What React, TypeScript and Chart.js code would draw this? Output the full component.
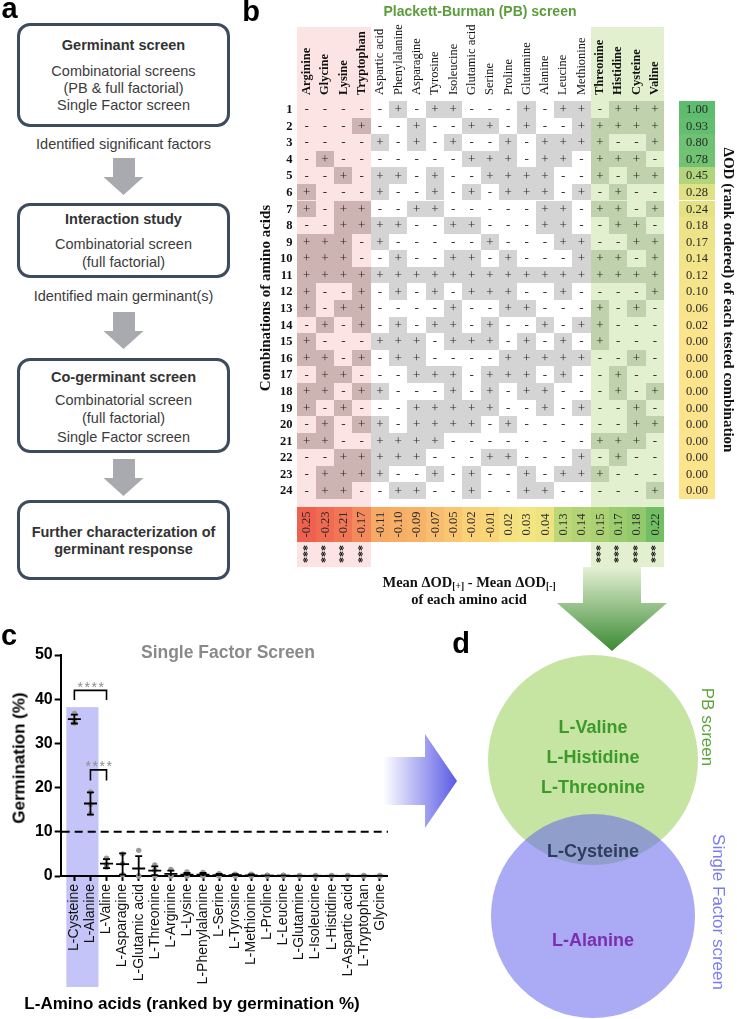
import React, { useEffect, useRef } from 'react';
import { Chart, registerables } from 'chart.js';

Chart.register(...registerables);

const SANS = '"Liberation Sans", Arial, Helvetica, sans-serif';
const SERIF = '"Liberation Serif", "Times New Roman", Times, serif';

// ---------------- Panel b : Plackett-Burman screen ----------------
const pbAminoAcids = [
  'Arginine', 'Glycine', 'Lysine', 'Tryptophan', 'Aspartic acid', 'Phenylalanine', 'Asparagine',
  'Tyrosine', 'Isoleucine', 'Glutamic acid', 'Serine', 'Proline', 'Glutamine', 'Alanine', 'Leucine',
  'Methionine', 'Threonine', 'Histidine', 'Cysteine', 'Valine',
];
const pbRunLabels = ['1', '2', '3', '4', '5', '6', '7', '8', '9', '10', '11', '12', '13', '14', '15', '16', '17', '18', '19', '20', '21', '22', '23', '24'];
const pbDesign = [
  '-----+-++---+-++-+++',
  '---+--+--++-+--+++++',
  '----+-+-+--+-++++--+',
  '-+-------+++-++-+++-',
  '--+-++-+--++++--+-++',
  '+---+--+-+-+++-+-+--',
  '+-++--++-----++-++-+',
  '--++++--++---++--++-',
  '+++-+-----+---++--++',
  '+++--+--++-+---+++-+',
  '++++++++++++++++++++',
  '+--+-+-+-+++--+----+',
  '+-++----+--++---+-+-',
  '-+-+-+-++-+--+-++---',
  '+---+++-+++-+-+-+---',
  '++-+-++----+++++--+-',
  '-++---+++-+++-+--+--',
  '++-++---+-+-++---+-+',
  '+-+---+++++--+-+--+-',
  '-+-++-++++-+------++',
  '++--++++--------+++-',
  '--+++++---++---+-+--',
  '-++++--+-+--+-+++---',
  '-++--++--+--++-----+',
];
const pbDeltaOD = [1.0, 0.93, 0.8, 0.78, 0.45, 0.28, 0.24, 0.18, 0.17, 0.14, 0.12, 0.1, 0.06, 0.02, 0.0, 0.0, 0.0, 0.0, 0.0, 0.0, 0.0, 0.0, 0.0, 0.0];
const pbEffects = [-0.25, -0.23, -0.21, -0.17, -0.11, -0.1, -0.09, -0.07, -0.05, -0.02, -0.01, 0.02, 0.03, 0.04, 0.13, 0.14, 0.15, 0.17, 0.18, 0.22];
const pbSignificance = ['***', '***', '***', '***', '', '', '', '', '', '', '', '', '', '', '', '', '***', '***', '***', '***'];

// ---------------- Panel c : Single Factor screen ----------------
const sfAminoAcids = [
  'L-Cysteine', 'L-Alanine', 'L-Valine', 'L-Asparagine', 'L-Glutamic acid', 'L-Threonine', 'L-Arginine',
  'L-Lysine', 'L-Phenylalanine', 'L-Serine', 'L-Tyrosine', 'L-Methionine', 'L-Proline', 'L-Leucine',
  'L-Glutamine', 'L-Isoleucine', 'L-Histidine', 'L-Aspartic acid', 'L-Tryptophan', 'Glycine',
];
const sfMean = [35.5, 16.4, 2.8, 2.7, 1.7, 1.2, 0.5, 0.3, 0.3, 0.2, 0.2, 0.15, 0.1, 0.1, 0.05, 0.05, 0.05, 0.05, 0.05, 0.05];
const sfSD = [1.0, 2.5, 1.0, 2.4, 2.8, 1.0, 0.7, 0.4, 0.4, 0.3, 0.2, 0.2, 0.1, 0.1, 0.05, 0.05, 0.05, 0.05, 0.05, 0.05];
const sfRep1 = [36.8, 19.0, 4.0, 5.0, 5.8, 2.5, 1.5, 0.9, 0.8, 0.5, 0.4, 0.4, 0.2, 0.2, 0.1, 0.1, 0.1, 0.1, 0.1, 0.1];
const sfRep2 = [34.6, 16.2, 2.6, 2.8, 0.0, 1.3, 0.1, 0.1, 0.2, 0.1, 0.1, 0.1, 0.1, 0.1, 0.0, 0.0, 0.0, 0.0, 0.0, 0.0];
const sfRep3 = [35.0, 14.1, 2.0, 0.3, 0.0, 0.0, 0.0, 0.0, 0.0, 0.0, 0.0, 0.0, 0.0, 0.0, 0.0, 0.0, 0.0, 0.0, 0.0, 0.0];
const sfYTicks = [0, 10, 20, 30, 40, 50];
const sfThreshold = [10];
const sfHighlighted = ['L-Cysteine', 'L-Alanine'];
const sfHighlightTop = [38.2];
// comparisons: from index, to index, bracket height, leg bottom, label
const sfCompFrom = [0, 1];
const sfCompTo = [2, 2];
const sfCompTop = [42.0, 24.0];
const sfCompLeg = [39.8, 21.6];
const sfCompLabel = ['****', '****'];

// ---------------- Panel d : Venn ----------------
const vennPBOnly = ['L-Valine', 'L-Histidine', 'L-Threonine'];
const vennShared = ['L-Cysteine'];
const vennSFOnly = ['L-Alanine'];

type Stop = [number, number[]];
const effectStops: Stop[] = [
  [-0.25, [239, 96, 78]], [-0.17, [244, 138, 92]], [-0.11, [247, 170, 102]], [-0.05, [249, 198, 114]],
  [0.0, [250, 217, 122]], [0.03, [243, 229, 130]], [0.06, [226, 226, 128]], [0.13, [187, 215, 120]], [0.22, [114, 190, 98]],
];
const odStops: Stop[] = [
  [0, [251, 228, 140]], [0.12, [245, 228, 138]], [0.28, [223, 225, 132]], [0.45, [177, 213, 123]], [0.78, [113, 194, 115]], [1.0, [94, 188, 110]],
];
function colorAt(stops: Stop[], v: number) {
  if (v <= stops[0][0]) return `rgb(${stops[0][1].join(',')})`;
  for (let i = 1; i < stops.length; i++) {
    if (v <= stops[i][0]) {
      const [a, ca] = stops[i - 1];
      const [b, cb] = stops[i];
      const t = (v - a) / (b - a);
      const c = ca.map((x, k) => Math.round(x + (cb[k] - x) * t));
      return `rgb(${c.join(',')})`;
    }
  }
  return `rgb(${stops[stops.length - 1][1].join(',')})`;
}

function drawText(ctx: any, s: string, x: number, y: number, font: string, color: string, align = 'center', baseline = 'middle', rot = 0) {
  ctx.save();
  ctx.translate(x, y);
  if (rot) ctx.rotate(rot);
  ctx.font = font;
  ctx.fillStyle = color;
  ctx.textAlign = align;
  ctx.textBaseline = baseline;
  ctx.fillText(s, 0, 0);
  ctx.restore();
}

const pbPlugin = {
  id: 'pbTable',
  afterDraw(chart: any) {
    const ctx = chart.ctx;
    const ca = chart.chartArea;
    const xs = chart.scales.x;
    const ys = chart.scales.y;
    const nC = pbAminoAcids.length;
    const nR = pbRunLabels.length;
    const cw = (ca.right - ca.left) / nC;
    const rh = (ca.bottom - ca.top) / nR;
    const cx = (c: number) => xs.getPixelForValue(c);
    const cy = (r: number) => ys.getPixelForValue(r);
    const colL = (c: number) => Math.round(cx(c) - cw / 2);
    const colR = (c: number) => Math.round(cx(c) + cw / 2);
    const rowT = (r: number) => Math.round(cy(r) - rh / 2);
    const rowB = (r: number) => Math.round(cy(r) + rh / 2);
    const zone = (c: number) => (pbSignificance[c] ? (pbEffects[c] < 0 ? 'neg' : 'pos') : 'mid');
    const light: any = { neg: '#fde4e4', pos: '#e3f0cf', mid: '#ffffff' };
    const dark: any = { neg: '#ceb3b3', pos: '#bfd1ad', mid: '#d4d4d4' };
    const bandTop = ca.top - 74;
    const bandBot = ca.bottom + 68;
    ctx.save();
    for (let c = 0; c < nC; c++) {
      const z = zone(c);
      if (z !== 'mid') {
        ctx.fillStyle = light[z];
        ctx.fillRect(colL(c), bandTop, colR(c) - colL(c), bandBot - bandTop);
      }
    }
    for (let r = 0; r < nR; r++) {
      for (let c = 0; c < nC; c++) {
        if (pbDesign[r][c] === '+') {
          ctx.fillStyle = dark[zone(c)];
          ctx.fillRect(colL(c), rowT(r), colR(c) - colL(c), rowB(r) - rowT(r));
        }
      }
    }
    for (let r = 0; r < nR; r++) {
      for (let c = 0; c < nC; c++) {
        drawText(ctx, pbDesign[r][c], cx(c), cy(r) + 0.5, `13px ${SERIF}`, '#2a2a2a');
      }
      drawText(ctx, pbRunLabels[r], ca.left - 5, cy(r) + 0.5, `bold 12.5px ${SERIF}`, '#111', 'right');
    }
    // headers
    for (let c = 0; c < nC; c++) {
      const bold = zone(c) !== 'mid';
      drawText(ctx, pbAminoAcids[c], cx(c), ca.top - 6, `${bold ? 'bold ' : ''}12.5px ${SERIF}`, '#111', 'left', 'middle', -Math.PI / 2);
    }
    // right Delta OD column
    const ox0 = ca.right + 15;
    const ox1 = ca.right + 51;
    for (let r = 0; r < nR; r++) {
      ctx.fillStyle = colorAt(odStops, pbDeltaOD[r]);
      ctx.fillRect(ox0, rowT(r), ox1 - ox0, rowB(r) - rowT(r));
      drawText(ctx, pbDeltaOD[r].toFixed(2), (ox0 + ox1) / 2, cy(r) + 0.5, `12.5px ${SERIF}`, '#2a2a2a');
    }
    drawText(ctx, 'ΔOD (rank ordered) of each tested combination', ca.right + 64, (ca.top + ca.bottom) / 2, `bold 15px ${SERIF}`, '#111', 'center', 'middle', Math.PI / 2);
    drawText(ctx, 'Combinations of amino acids', ca.left - 31.5, (ca.top + ca.bottom) / 2 - 2, `bold 15px ${SERIF}`, '#111', 'center', 'middle', -Math.PI / 2);
    // effects row
    const ey0 = ca.bottom + 8;
    const ey1 = ca.bottom + 43;
    for (let c = 0; c < nC; c++) {
      ctx.fillStyle = colorAt(effectStops, pbEffects[c]);
      ctx.fillRect(colL(c), ey0, colR(c) - colL(c), ey1 - ey0);
      drawText(ctx, pbEffects[c].toFixed(2), cx(c) + 0.5, (ey0 + ey1) / 2, `12.5px ${SERIF}`, '#2a2a2a', 'center', 'middle', -Math.PI / 2);
      if (pbSignificance[c]) {
        drawText(ctx, pbSignificance[c], cx(c) + 1, ca.bottom + 55, `bold 12px ${SERIF}`, '#111', 'center', 'middle', -Math.PI / 2);
      }
    }
    // bottom label
    const midX = 229;
    const y1 = ca.bottom + 84;
    const big = `bold 14.5px ${SERIF}`;
    const small = `bold 9.5px ${SERIF}`;
    const parts: [string, string, number][] = [
      ['Mean ΔOD', big, 0], ['[+]', small, 4], [' - Mean ΔOD', big, 0], ['[-]', small, 4],
    ];
    let total = 0;
    for (const p of parts) { ctx.font = p[1]; total += ctx.measureText(p[0]).width; }
    let px = midX - total / 2;
    for (const p of parts) {
      drawText(ctx, p[0], px, y1 + p[2], p[1], '#111', 'left', 'middle');
      ctx.font = p[1];
      px += ctx.measureText(p[0]).width;
    }
    drawText(ctx, 'of each amino acid', midX, y1 + 17, big, '#111');
    // title
    drawText(ctx, 'Plackett-Burman (PB) screen', 240, 12, `bold 14px ${SANS}`, '#5b9d3a');
    ctx.restore();
  },
};

function PBChart() {
  const ref = useRef<HTMLCanvasElement>(null);
  useEffect(() => {
    const chart = new Chart(ref.current as any, {
      type: 'scatter',
      data: { labels: pbAminoAcids, datasets: [{ data: [], pointRadius: 0 }] },
      options: {
        animation: false,
        responsive: false,
        maintainAspectRatio: false,
        events: [],
        layout: { padding: { left: 57.5, right: 73, top: 101, bottom: 113 } },
        plugins: { legend: { display: false }, tooltip: { enabled: false } },
        scales: {
          x: { type: 'category', labels: pbAminoAcids, offset: true, display: false },
          y: { type: 'category', labels: pbRunLabels, offset: true, display: false },
        },
      } as any,
      plugins: [pbPlugin],
    });
    return () => chart.destroy();
  }, []);
  return <canvas ref={ref} width={497} height={612} style={{ position: 'absolute', left: 240, top: 0, width: 497, height: 612 }} />;
}

const sfPlugin = {
  id: 'sfDecor',
  beforeDraw(chart: any) {
    const ctx = chart.ctx;
    const ca = chart.chartArea;
    const xs = chart.scales.x;
    const ys = chart.scales.y;
    const x0 = xs.getPixelForValue(-0.5);
    const x1 = xs.getPixelForValue(sfHighlighted.length - 0.5);
    const yT = ys.getPixelForValue(sfHighlightTop[0]);
    ctx.save();
    ctx.fillStyle = '#c4c4f9';
    ctx.fillRect(x0, yT, x1 - x0, ca.bottom + 111 - yT);
    ctx.restore();
  },
  afterDatasetsDraw(chart: any) {
    const ctx = chart.ctx;
    const ca = chart.chartArea;
    const xs = chart.scales.x;
    const ys = chart.scales.y;
    ctx.save();
    // threshold
    ctx.strokeStyle = '#000';
    ctx.lineWidth = 2;
    ctx.setLineDash([8, 5]);
    ctx.beginPath();
    const yt = ys.getPixelForValue(sfThreshold[0]);
    ctx.moveTo(ca.left + 1, yt);
    ctx.lineTo(ca.right, yt);
    ctx.stroke();
    ctx.setLineDash([]);
    // error bars and means
    ctx.lineWidth = 1.8;
    for (let i = 0; i < sfAminoAcids.length; i++) {
      const px = xs.getPixelForValue(i);
      const ym = ys.getPixelForValue(sfMean[i]);
      const yTop = ys.getPixelForValue(sfMean[i] + sfSD[i]);
      const lowV = sfMean[i] - sfSD[i];
      const yBot = ys.getPixelForValue(Math.max(0, lowV));
      ctx.beginPath();
      if (sfSD[i] >= 0.15) {
        ctx.moveTo(px, yTop); ctx.lineTo(px, yBot);
        ctx.moveTo(px - 3.5, yTop); ctx.lineTo(px + 3.5, yTop);
        if (lowV > 0) { ctx.moveTo(px - 3.5, yBot); ctx.lineTo(px + 3.5, yBot); }
      }
      ctx.moveTo(px - 6.5, ym); ctx.lineTo(px + 6.5, ym);
      ctx.stroke();
    }
    // brackets
    for (let k = 0; k < sfCompFrom.length; k++) {
      const xa = xs.getPixelForValue(sfCompFrom[k]);
      const xb = xs.getPixelForValue(sfCompTo[k]);
      const yTop = ys.getPixelForValue(sfCompTop[k]);
      const yLeg = ys.getPixelForValue(sfCompLeg[k]);
      ctx.lineWidth = 1.6;
      ctx.strokeStyle = '#000';
      ctx.beginPath();
      ctx.moveTo(xa, yLeg); ctx.lineTo(xa, yTop); ctx.lineTo(xb, yTop); ctx.lineTo(xb, yLeg);
      ctx.stroke();
      ctx.save();
      ctx.font = `14px ${SANS}`;
      (ctx as any).letterSpacing = '1.5px';
      ctx.fillStyle = '#8c8c8c';
      ctx.textAlign = 'center';
      ctx.textBaseline = 'middle';
      ctx.fillText(sfCompLabel[k], (xa + xb) / 2 + 1, yTop - 2.5);
      ctx.restore();
    }
    ctx.restore();
  },
};

function SFChart() {
  const ref = useRef<HTMLCanvasElement>(null);
  useEffect(() => {
    const pts: any[] = [];
    sfAminoAcids.forEach((_, i) => {
      pts.push({ x: i, y: sfRep1[i] }, { x: i, y: sfRep2[i] }, { x: i, y: sfRep3[i] });
    });
    const chart = new Chart(ref.current as any, {
      type: 'scatter',
      data: {
        datasets: [
          { label: 'Replicates', data: pts, pointRadius: 2.7, pointBackgroundColor: '#9a9a9a', pointBorderWidth: 0, clip: false } as any,
        ],
      },
      options: {
        animation: false,
        responsive: false,
        maintainAspectRatio: false,
        events: [],
        layout: { padding: { left: 0, right: 12, top: 35, bottom: 0 } },
        plugins: { legend: { display: false }, tooltip: { enabled: false }, title: { display: false } },
        scales: {
          x: {
            type: 'linear',
            min: -0.85,
            max: 19.5,
            afterBuildTicks: (s: any) => { s.ticks = sfAminoAcids.map((_, i) => ({ value: i })); },
            afterFit: (s: any) => { s.height = 143; },
            ticks: {
              autoSkip: false, maxRotation: 90, minRotation: 90, padding: 3,
              callback: (v: any) => sfAminoAcids[v],
              font: { family: SANS, size: 14 }, color: '#111',
            },
            grid: { drawOnChartArea: false, drawTicks: true, tickLength: 5, tickWidth: 2, color: '#000', tickColor: '#000' },
            border: { display: true, width: 2, color: '#000' },
          },
          y: {
            type: 'linear',
            min: 0,
            max: 50,
            afterBuildTicks: (s: any) => { s.ticks = sfYTicks.map((v) => ({ value: v })); },
            afterFit: (s: any) => { s.width = 60.7; },
            ticks: { padding: 2, font: { family: SANS, size: 16, weight: 'bold' }, color: '#000' },
            grid: { drawOnChartArea: false, drawTicks: true, tickLength: 6, tickWidth: 2, color: '#000', tickColor: '#000' },
            border: { display: true, width: 2, color: '#000' },
          },
        },
      } as any,
      plugins: [sfPlugin],
    });
    return () => chart.destroy();
  }, []);
  return <canvas ref={ref} width={400} height={399} style={{ position: 'absolute', left: 0, top: 620, width: 400, height: 399 }} />;
}

// Venn canvas: 297 x 389; padding larger than bubble overflow so that scale units equal canvas pixels
const VENN_W = 297;
const VENN_H = 389;
const VENN_PAD = 120;

function VennChart() {
  const ref = useRef<HTMLCanvasElement>(null);
  useEffect(() => {
    const chart = new Chart(ref.current as any, {
      type: 'bubble',
      data: {
        datasets: [
          { label: 'PB screen', order: 2, data: [{ x: 153, y: 130, r: 105 }], backgroundColor: 'rgb(198,228,162)', borderWidth: 0, clip: false } as any,
          { label: 'Single Factor screen', order: 1, data: [{ x: 153, y: 286, r: 102 }], backgroundColor: 'rgba(100,100,237,0.55)', borderWidth: 0, clip: false } as any,
        ],
      },
      options: {
        animation: false,
        responsive: false,
        maintainAspectRatio: false,
        events: [],
        layout: { padding: VENN_PAD },
        plugins: { legend: { display: false }, tooltip: { enabled: false } },
        scales: {
          x: { type: 'linear', min: VENN_PAD, max: VENN_W - VENN_PAD, display: false },
          y: { type: 'linear', min: VENN_PAD, max: VENN_H - VENN_PAD, reverse: true, display: false },
        },
      } as any,
    });
    return () => chart.destroy();
  }, []);
  return <canvas ref={ref} width={VENN_W} height={VENN_H} style={{ position: 'absolute', left: 440, top: 630, width: VENN_W, height: VENN_H }} />;
}

function Txt(props: any) {
  const { x, y, size, bold, color = '#3c3c3c', family = SANS, rotate = 0, children } = props;
  return (
    <div
      style={{
        position: 'absolute', left: x, top: y,
        transform: `translate(-50%, -50%) rotate(${rotate}deg)`,
        fontFamily: family, fontSize: size, fontWeight: bold ? 700 : 400, color,
        whiteSpace: 'nowrap', lineHeight: 1,
      }}
    >
      {children}
    </div>
  );
}

function Box(props: any) {
  const { top, height } = props;
  return (
    <div
      style={{
        position: 'absolute', left: 17, top, width: 213, height, boxSizing: 'border-box',
        border: '3px solid #3d4b5f', borderRadius: 13, background: '#fff',
      }}
    />
  );
}

function grayArrow(y0: number) {
  const s1 = y0 + 19;
  const tip = y0 + 37;
  return `113,${y0} 135,${y0} 135,${s1} 143.5,${s1} 123.5,${tip} 103.5,${s1} 113,${s1}`;
}

export default function App() {
  const cx = 123.5;
  return (
    <div style={{ position: 'absolute', left: 0, top: 0, width: 737, height: 1019, background: '#fff', overflow: 'hidden' }}>
      {/* Panel a */}
      <Box top={23} height={104} />
      <Box top={203} height={75} />
      <Box top={358} height={95} />
      <Box top={500} height={80} />
      <Txt x={cx} y={45} size={14.5} bold color="#333">Germinant screen</Txt>
      <Txt x={cx} y={70.5} size={14.5}>Combinatorial screens</Txt>
      <Txt x={cx} y={87.5} size={14.5}>(PB &amp; full factorial)</Txt>
      <Txt x={cx} y={105} size={14.5}>Single Factor screen</Txt>
      <Txt x={cx} y={143.5} size={14.5}>Identified significant factors</Txt>
      <Txt x={cx} y={218.5} size={14.5} bold color="#333">Interaction study</Txt>
      <Txt x={cx} y={243.5} size={14.5}>Combinatorial screen</Txt>
      <Txt x={cx} y={261.5} size={14.5}>(full factorial)</Txt>
      <Txt x={cx} y={296} size={14.5}>Identified main germinant(s)</Txt>
      <Txt x={cx} y={377} size={14.5} bold color="#333">Co-germinant screen</Txt>
      <Txt x={cx} y={400} size={14.5}>Combinatorial screen</Txt>
      <Txt x={cx} y={418} size={14.5}>(full factorial)</Txt>
      <Txt x={cx} y={437} size={14.5}>Single Factor screen</Txt>
      <Txt x={cx} y={532} size={14.5} bold color="#333">Further characterization of</Txt>
      <Txt x={cx} y={549} size={14.5} bold color="#333">germinant response</Txt>

      {/* Panel b */}
      <PBChart />

      {/* Panel c */}
      <SFChart />
      <Txt x={228} y={653} size={17.5} bold color="#8a8a8a">Single Factor Screen</Txt>
      <Txt x={19} y={758} size={17} bold color="#000" rotate={-90}>Germination (%)</Txt>
      <Txt x={192} y={1003} size={17} bold color="#000">L-Amino acids (ranked by germination %)</Txt>

      {/* Panel d */}
      <VennChart />
      {vennPBOnly.map((t, i) => (
        <Txt key={t} x={593} y={727 + i * 30} size={18} bold color="#3c9a2b">{t}</Txt>
      ))}
      {vennShared.map((t) => (
        <Txt key={t} x={593} y={851} size={18} bold color="#2f3c5e">{t}</Txt>
      ))}
      {vennSFOnly.map((t) => (
        <Txt key={t} x={593} y={940} size={18} bold color="#7d2db0">{t}</Txt>
      ))}
      <Txt x={707} y={727} size={17} color="#5aa53a" rotate={90}>PB screen</Txt>
      <Txt x={718} y={912} size={17} color="#7b7bf2" rotate={90}>Single Factor screen</Txt>

      {/* arrows */}
      <svg width={737} height={1019} style={{ position: 'absolute', left: 0, top: 0, pointerEvents: 'none' }}>
        <defs>
          <linearGradient id="gArrow" x1="0" y1="0" x2="0" y2="1">
            <stop offset="0" stopColor="#e4f1d4" />
            <stop offset="1" stopColor="#3b8a33" />
          </linearGradient>
          <linearGradient id="bArrow" x1="0" y1="0" x2="1" y2="0">
            <stop offset="0" stopColor="#ffffff" />
            <stop offset="1" stopColor="#5a5ae6" />
          </linearGradient>
        </defs>
        <polygon points={grayArrow(158)} fill="#a8aaaf" />
        <polygon points={grayArrow(312)} fill="#a8aaaf" />
        <polygon points={grayArrow(459)} fill="#a8aaaf" />
        <polygon points="583,567 641,567 641,603 667,603 612,651 557,603 583,603" fill="url(#gArrow)" />
        <polygon points="383,757 425,757 425,734 457,781 425,828 425,805 383,805" fill="url(#bArrow)" />
      </svg>

      {/* panel letters */}
      <Txt x={9.5} y={7.5} size={29} bold color="#000">a</Txt>
      <Txt x={251} y={10.5} size={29} bold color="#000">b</Txt>
      <Txt x={9} y={635} size={29} bold color="#000">c</Txt>
      <Txt x={461} y={643} size={29} bold color="#000">d</Txt>
    </div>
  );
}
